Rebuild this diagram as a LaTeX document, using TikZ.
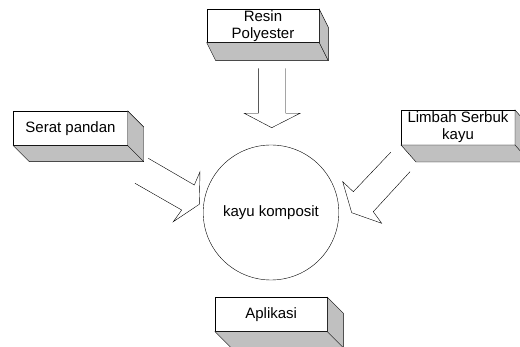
\documentclass[tikz,border=0pt]{standalone}
\usepackage{fontspec}
\setmainfont{Liberation Sans}
\usetikzlibrary{shapes.geometric}
\definecolor{shade}{RGB}{192,192,192}
\tikzset{
  x=1pt, y=-1pt,
  line width=0.8pt,
  front/.style={draw, fill=white, inner sep=0pt, outer sep=0pt, align=center,
    minimum width=#1, font=\fontsize{15}{17}\selectfont, minimum height=34.5pt},
  blockarrow/.style={draw, fill=white, line join=miter},
}
\newcommand\boxdepth[3]{%
  \filldraw[fill=shade] (#1.north east) -- ++(#2,#3) -- ([shift={(#2,#3)}]#1.south east)
    -- ([shift={(#2,#3)}]#1.south west) -- (#1.south west) -- (#1.south east) -- cycle;
  \draw (#1.south east) -- ++(#2,#3);}
\begin{document}
\begin{tikzpicture}
\useasboundingbox (0,0) rectangle (520,347);
\clip (0,0) rectangle (520,347);
% boxes
\node[front=112.6pt, minimum height=33.4pt] (resin) at (263,26) {Resin\\Polyester};
\boxdepth{resin}{9}{18}
\node[front=114.4pt, minimum height=34.7pt] (serat) at (70.5,128.3) {Serat pandan};
\boxdepth{serat}{16}{16}
\node[front=114pt, minimum height=35pt] (limbah) at (458,127.5) {Limbah Serbuk\\kayu};
\boxdepth{limbah}{15}{17}
\node[front=112.3pt, minimum height=34.4pt] (aplikasi) at (271.2,314.5) {Aplikasi};
\boxdepth{aplikasi}{16}{16}
% circle
\node[draw, ellipse, inner sep=0pt, minimum width=130pt, minimum height=135pt,
  font=\fontsize{15}{17}\selectfont] (kayu) at (271,212.5) {kayu komposit};
% block arrows
\draw[blockarrow] (258.3,68.3) -- (258.3,113.3) -- (244.3,113.3) -- (271.7,127.7)
  -- (300,113.3) -- (285.7,113.3) -- (285.7,68.3);
\draw[blockarrow] (148.3,158.3) -- (194.3,185) -- (200,171.7) -- (199.3,204.3)
  -- (173.3,221.7) -- (181.7,210) -- (135,183.3);
\draw[blockarrow] (390.7,152.3) -- (353.3,191.7) -- (342.7,181.7) -- (351.7,212.7)
  -- (381.7,223.3) -- (373.3,211.7) -- (410,171.7);
\end{tikzpicture}
\end{document}
